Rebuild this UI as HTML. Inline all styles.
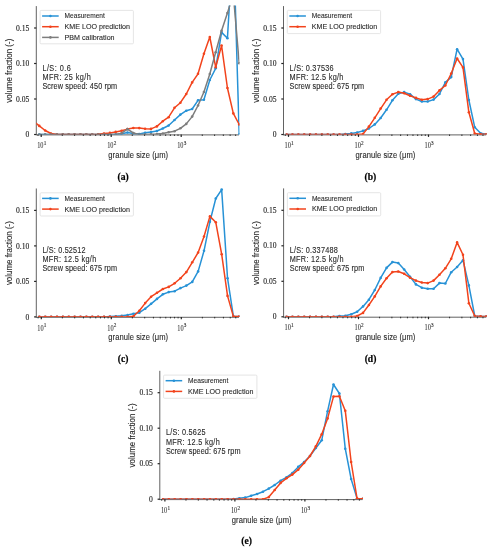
<!DOCTYPE html><html><head><meta charset="utf-8"><style>html,body{margin:0;padding:0;background:#fff;}svg{display:block;filter:blur(0.3px);}text{stroke:#2a2a2a;stroke-width:0.1px;}.tk{font-family:"Liberation Serif",serif;font-size:7.6px;fill:#222;stroke:#222;stroke-width:0.12px;}.sup{font-family:"Liberation Serif",serif;font-size:5.2px;fill:#2a2a2a;}.xtk{font-family:"Liberation Serif",serif;font-size:7.4px;fill:#2a2a2a;stroke:#2a2a2a;stroke-width:0.05px;}.lab{font-family:"Liberation Sans",sans-serif;font-size:7.6px;fill:#2a2a2a;}.ylab{font-family:"Liberation Sans",sans-serif;font-size:8.6px;fill:#2a2a2a;}.lg{font-family:"Liberation Sans",sans-serif;font-size:6.7px;fill:#2a2a2a;}.ann{font-family:"Liberation Sans",sans-serif;font-size:7.3px;fill:#2a2a2a;}.sl{font-family:"Liberation Serif",serif;font-size:9.6px;font-weight:bold;fill:#000;stroke:#000;stroke-width:0.2px;}</style></head><body>
<svg width="490" height="550" viewBox="0 0 490 550">
<rect width="490" height="550" fill="#fff"/>
<clipPath id="c0"><rect x="36.3" y="5.6" width="203.2" height="128.9"/></clipPath>
<line x1="36.3" y1="6.1" x2="36.3" y2="135" stroke="#626262" stroke-width="1"/>
<line x1="35.8" y1="134.9" x2="239" y2="134.9" stroke="#626262" stroke-width="1"/>
<g clip-path="url(#c0)">
<polyline fill="none" stroke="#2792d6" stroke-width="1.5" stroke-linejoin="round" points="39.28,134.5 45.16,134.5 51.04,134.5 56.92,134.5 62.8,134.5 68.68,134.5 74.56,134.5 80.44,134.5 86.32,134.5 92.2,134.5 98.08,134.5 103.96,134.5 109.84,134.5 115.72,134.5 121.6,133.7 127.48,132.5 133.36,133.6 139.24,134 145.12,132.8 151,132.1 156.88,131 162.76,128.5 168.64,125.5 174.52,120 180.4,114.6 186.28,110.7 192.16,109 198.04,100.3 203.92,99.7 209.8,80 215.68,68.3 221.56,32.4 227.44,38.3 233.32,-61.7 239.2,134.5"/>
<circle cx="39.28" cy="134.5" r="1.3" fill="#2792d6"/>
<circle cx="45.16" cy="134.5" r="1.3" fill="#2792d6"/>
<circle cx="51.04" cy="134.5" r="1.3" fill="#2792d6"/>
<circle cx="56.92" cy="134.5" r="1.3" fill="#2792d6"/>
<circle cx="62.8" cy="134.5" r="1.3" fill="#2792d6"/>
<circle cx="68.68" cy="134.5" r="1.3" fill="#2792d6"/>
<circle cx="74.56" cy="134.5" r="1.3" fill="#2792d6"/>
<circle cx="80.44" cy="134.5" r="1.3" fill="#2792d6"/>
<circle cx="86.32" cy="134.5" r="1.3" fill="#2792d6"/>
<circle cx="92.2" cy="134.5" r="1.3" fill="#2792d6"/>
<circle cx="98.08" cy="134.5" r="1.3" fill="#2792d6"/>
<circle cx="103.96" cy="134.5" r="1.3" fill="#2792d6"/>
<circle cx="109.84" cy="134.5" r="1.3" fill="#2792d6"/>
<circle cx="115.72" cy="134.5" r="1.3" fill="#2792d6"/>
<circle cx="121.6" cy="133.7" r="1.3" fill="#2792d6"/>
<circle cx="127.48" cy="132.5" r="1.3" fill="#2792d6"/>
<circle cx="133.36" cy="133.6" r="1.3" fill="#2792d6"/>
<circle cx="139.24" cy="134" r="1.3" fill="#2792d6"/>
<circle cx="145.12" cy="132.8" r="1.3" fill="#2792d6"/>
<circle cx="151" cy="132.1" r="1.3" fill="#2792d6"/>
<circle cx="156.88" cy="131" r="1.3" fill="#2792d6"/>
<circle cx="162.76" cy="128.5" r="1.3" fill="#2792d6"/>
<circle cx="168.64" cy="125.5" r="1.3" fill="#2792d6"/>
<circle cx="174.52" cy="120" r="1.3" fill="#2792d6"/>
<circle cx="180.4" cy="114.6" r="1.3" fill="#2792d6"/>
<circle cx="186.28" cy="110.7" r="1.3" fill="#2792d6"/>
<circle cx="192.16" cy="109" r="1.3" fill="#2792d6"/>
<circle cx="198.04" cy="100.3" r="1.3" fill="#2792d6"/>
<circle cx="203.92" cy="99.7" r="1.3" fill="#2792d6"/>
<circle cx="209.8" cy="80" r="1.3" fill="#2792d6"/>
<circle cx="215.68" cy="68.3" r="1.3" fill="#2792d6"/>
<circle cx="221.56" cy="32.4" r="1.3" fill="#2792d6"/>
<circle cx="227.44" cy="38.3" r="1.3" fill="#2792d6"/>
<circle cx="233.32" cy="-61.7" r="1.3" fill="#2792d6"/>
<circle cx="239.2" cy="134.5" r="1.3" fill="#2792d6"/>
<polyline fill="none" stroke="#f2431c" stroke-width="1.5" stroke-linejoin="round" points="33.4,121.2 39.28,125.9 45.16,130.5 51.04,133.5 56.92,134.5 62.8,134.5 68.68,134.5 74.56,134.5 80.44,134.5 86.32,134.5 92.2,134.5 98.08,134.2 103.96,133.6 109.84,132.9 115.72,131.9 121.6,130.8 127.48,129.1 133.36,128 139.24,128.1 145.12,128.8 151,128.9 156.88,126.4 162.76,121.2 168.64,117.2 174.52,107.8 180.4,102.7 186.28,94 192.16,82.4 198.04,73.8 203.92,53.8 209.8,37 215.68,67.2 221.56,45.6 227.44,88 233.32,113.4 239.2,124.5"/>
<circle cx="33.4" cy="121.2" r="1.3" fill="#f2431c"/>
<circle cx="39.28" cy="125.9" r="1.3" fill="#f2431c"/>
<circle cx="45.16" cy="130.5" r="1.3" fill="#f2431c"/>
<circle cx="51.04" cy="133.5" r="1.3" fill="#f2431c"/>
<circle cx="56.92" cy="134.5" r="1.3" fill="#f2431c"/>
<circle cx="62.8" cy="134.5" r="1.3" fill="#f2431c"/>
<circle cx="68.68" cy="134.5" r="1.3" fill="#f2431c"/>
<circle cx="74.56" cy="134.5" r="1.3" fill="#f2431c"/>
<circle cx="80.44" cy="134.5" r="1.3" fill="#f2431c"/>
<circle cx="86.32" cy="134.5" r="1.3" fill="#f2431c"/>
<circle cx="92.2" cy="134.5" r="1.3" fill="#f2431c"/>
<circle cx="98.08" cy="134.2" r="1.3" fill="#f2431c"/>
<circle cx="103.96" cy="133.6" r="1.3" fill="#f2431c"/>
<circle cx="109.84" cy="132.9" r="1.3" fill="#f2431c"/>
<circle cx="115.72" cy="131.9" r="1.3" fill="#f2431c"/>
<circle cx="121.6" cy="130.8" r="1.3" fill="#f2431c"/>
<circle cx="127.48" cy="129.1" r="1.3" fill="#f2431c"/>
<circle cx="133.36" cy="128" r="1.3" fill="#f2431c"/>
<circle cx="139.24" cy="128.1" r="1.3" fill="#f2431c"/>
<circle cx="145.12" cy="128.8" r="1.3" fill="#f2431c"/>
<circle cx="151" cy="128.9" r="1.3" fill="#f2431c"/>
<circle cx="156.88" cy="126.4" r="1.3" fill="#f2431c"/>
<circle cx="162.76" cy="121.2" r="1.3" fill="#f2431c"/>
<circle cx="168.64" cy="117.2" r="1.3" fill="#f2431c"/>
<circle cx="174.52" cy="107.8" r="1.3" fill="#f2431c"/>
<circle cx="180.4" cy="102.7" r="1.3" fill="#f2431c"/>
<circle cx="186.28" cy="94" r="1.3" fill="#f2431c"/>
<circle cx="192.16" cy="82.4" r="1.3" fill="#f2431c"/>
<circle cx="198.04" cy="73.8" r="1.3" fill="#f2431c"/>
<circle cx="203.92" cy="53.8" r="1.3" fill="#f2431c"/>
<circle cx="209.8" cy="37" r="1.3" fill="#f2431c"/>
<circle cx="215.68" cy="67.2" r="1.3" fill="#f2431c"/>
<circle cx="221.56" cy="45.6" r="1.3" fill="#f2431c"/>
<circle cx="227.44" cy="88" r="1.3" fill="#f2431c"/>
<circle cx="233.32" cy="113.4" r="1.3" fill="#f2431c"/>
<circle cx="239.2" cy="124.5" r="1.3" fill="#f2431c"/>
<polyline fill="none" stroke="#7d7d7d" stroke-width="1.5" stroke-linejoin="round" points="39.28,134.5 45.16,134.5 51.04,134.5 56.92,134.5 62.8,134.5 68.68,134.5 74.56,134.5 80.44,134.5 86.32,134.5 92.2,134.5 98.08,134.5 103.96,134.5 109.84,134.5 115.72,134.5 121.6,133.2 127.48,129.1 133.36,133 139.24,134.5 145.12,134.5 151,134.3 156.88,134 162.76,133.5 168.64,132.2 174.52,131.2 180.4,128.3 186.28,123.9 192.16,116.6 198.04,105.5 203.92,92 209.8,74 215.68,52.3 221.56,30.8 227.44,13 233.32,-5.7 239.2,63.2"/>
<circle cx="39.28" cy="134.5" r="1.3" fill="#7d7d7d"/>
<circle cx="45.16" cy="134.5" r="1.3" fill="#7d7d7d"/>
<circle cx="51.04" cy="134.5" r="1.3" fill="#7d7d7d"/>
<circle cx="56.92" cy="134.5" r="1.3" fill="#7d7d7d"/>
<circle cx="62.8" cy="134.5" r="1.3" fill="#7d7d7d"/>
<circle cx="68.68" cy="134.5" r="1.3" fill="#7d7d7d"/>
<circle cx="74.56" cy="134.5" r="1.3" fill="#7d7d7d"/>
<circle cx="80.44" cy="134.5" r="1.3" fill="#7d7d7d"/>
<circle cx="86.32" cy="134.5" r="1.3" fill="#7d7d7d"/>
<circle cx="92.2" cy="134.5" r="1.3" fill="#7d7d7d"/>
<circle cx="98.08" cy="134.5" r="1.3" fill="#7d7d7d"/>
<circle cx="103.96" cy="134.5" r="1.3" fill="#7d7d7d"/>
<circle cx="109.84" cy="134.5" r="1.3" fill="#7d7d7d"/>
<circle cx="115.72" cy="134.5" r="1.3" fill="#7d7d7d"/>
<circle cx="121.6" cy="133.2" r="1.3" fill="#7d7d7d"/>
<circle cx="127.48" cy="129.1" r="1.3" fill="#7d7d7d"/>
<circle cx="133.36" cy="133" r="1.3" fill="#7d7d7d"/>
<circle cx="139.24" cy="134.5" r="1.3" fill="#7d7d7d"/>
<circle cx="145.12" cy="134.5" r="1.3" fill="#7d7d7d"/>
<circle cx="151" cy="134.3" r="1.3" fill="#7d7d7d"/>
<circle cx="156.88" cy="134" r="1.3" fill="#7d7d7d"/>
<circle cx="162.76" cy="133.5" r="1.3" fill="#7d7d7d"/>
<circle cx="168.64" cy="132.2" r="1.3" fill="#7d7d7d"/>
<circle cx="174.52" cy="131.2" r="1.3" fill="#7d7d7d"/>
<circle cx="180.4" cy="128.3" r="1.3" fill="#7d7d7d"/>
<circle cx="186.28" cy="123.9" r="1.3" fill="#7d7d7d"/>
<circle cx="192.16" cy="116.6" r="1.3" fill="#7d7d7d"/>
<circle cx="198.04" cy="105.5" r="1.3" fill="#7d7d7d"/>
<circle cx="203.92" cy="92" r="1.3" fill="#7d7d7d"/>
<circle cx="209.8" cy="74" r="1.3" fill="#7d7d7d"/>
<circle cx="215.68" cy="52.3" r="1.3" fill="#7d7d7d"/>
<circle cx="221.56" cy="30.8" r="1.3" fill="#7d7d7d"/>
<circle cx="227.44" cy="13" r="1.3" fill="#7d7d7d"/>
<circle cx="233.32" cy="-5.7" r="1.3" fill="#7d7d7d"/>
<circle cx="239.2" cy="63.2" r="1.3" fill="#7d7d7d"/>
</g>
<line x1="34.1" y1="134.5" x2="36.3" y2="134.5" stroke="#222" stroke-width="1.2"/>
<text x="29.3" y="137.1" class="tk" text-anchor="end">0</text>
<line x1="34.1" y1="99" x2="36.3" y2="99" stroke="#222" stroke-width="1.2"/>
<text x="29.3" y="101.6" class="tk" text-anchor="end">0.05</text>
<line x1="34.1" y1="63.5" x2="36.3" y2="63.5" stroke="#222" stroke-width="1.2"/>
<text x="29.3" y="66.1" class="tk" text-anchor="end">0.10</text>
<line x1="34.1" y1="28" x2="36.3" y2="28" stroke="#222" stroke-width="1.2"/>
<text x="29.3" y="30.6" class="tk" text-anchor="end">0.15</text>
<line x1="41.2" y1="134.5" x2="41.2" y2="136.9" stroke="#222" stroke-width="1.2"/>
<text x="37.2" y="148.1" class="xtk" textLength="6.3" lengthAdjust="spacingAndGlyphs">10</text>
<text x="43.7" y="145" class="sup">1</text>
<line x1="62.27" y1="134.5" x2="62.27" y2="136" stroke="#222" stroke-width="0.9"/>
<line x1="74.6" y1="134.5" x2="74.6" y2="136" stroke="#222" stroke-width="0.9"/>
<line x1="83.34" y1="134.5" x2="83.34" y2="136" stroke="#222" stroke-width="0.9"/>
<line x1="90.13" y1="134.5" x2="90.13" y2="136" stroke="#222" stroke-width="0.9"/>
<line x1="95.67" y1="134.5" x2="95.67" y2="136" stroke="#222" stroke-width="0.9"/>
<line x1="100.36" y1="134.5" x2="100.36" y2="136" stroke="#222" stroke-width="0.9"/>
<line x1="104.42" y1="134.5" x2="104.42" y2="136" stroke="#222" stroke-width="0.9"/>
<line x1="108" y1="134.5" x2="108" y2="136" stroke="#222" stroke-width="0.9"/>
<line x1="111.2" y1="134.5" x2="111.2" y2="136.9" stroke="#222" stroke-width="1.2"/>
<text x="107.2" y="148.1" class="xtk" textLength="6.3" lengthAdjust="spacingAndGlyphs">10</text>
<text x="113.7" y="145" class="sup">2</text>
<line x1="132.27" y1="134.5" x2="132.27" y2="136" stroke="#222" stroke-width="0.9"/>
<line x1="144.6" y1="134.5" x2="144.6" y2="136" stroke="#222" stroke-width="0.9"/>
<line x1="153.34" y1="134.5" x2="153.34" y2="136" stroke="#222" stroke-width="0.9"/>
<line x1="160.13" y1="134.5" x2="160.13" y2="136" stroke="#222" stroke-width="0.9"/>
<line x1="165.67" y1="134.5" x2="165.67" y2="136" stroke="#222" stroke-width="0.9"/>
<line x1="170.36" y1="134.5" x2="170.36" y2="136" stroke="#222" stroke-width="0.9"/>
<line x1="174.42" y1="134.5" x2="174.42" y2="136" stroke="#222" stroke-width="0.9"/>
<line x1="178" y1="134.5" x2="178" y2="136" stroke="#222" stroke-width="0.9"/>
<line x1="181.2" y1="134.5" x2="181.2" y2="136.9" stroke="#222" stroke-width="1.2"/>
<text x="177.2" y="148.1" class="xtk" textLength="6.3" lengthAdjust="spacingAndGlyphs">10</text>
<text x="183.7" y="145" class="sup">3</text>
<line x1="202.27" y1="134.5" x2="202.27" y2="136" stroke="#222" stroke-width="0.9"/>
<line x1="214.6" y1="134.5" x2="214.6" y2="136" stroke="#222" stroke-width="0.9"/>
<line x1="223.34" y1="134.5" x2="223.34" y2="136" stroke="#222" stroke-width="0.9"/>
<line x1="230.13" y1="134.5" x2="230.13" y2="136" stroke="#222" stroke-width="0.9"/>
<line x1="235.67" y1="134.5" x2="235.67" y2="136" stroke="#222" stroke-width="0.9"/>
<line x1="38" y1="134.5" x2="38" y2="136" stroke="#222" stroke-width="0.9"/>
<g transform="translate(138.2,157.8) scale(1,1.12)"><text x="0" y="0" class="lab" text-anchor="middle" textLength="59.8" lengthAdjust="spacing">granule size (μm)</text></g>
<text transform="translate(11.5,70.7) rotate(-90)" x="0" y="0" class="ylab" text-anchor="middle" textLength="64" lengthAdjust="spacingAndGlyphs">volume fraction (-)</text>
<rect x="40.1" y="10.4" width="93.3" height="33.4" rx="1.0" fill="#fff" fill-opacity="0.85" stroke="#dedede" stroke-width="0.8"/>
<line x1="42.1" y1="16" x2="58.7" y2="16" stroke="#2792d6" stroke-width="1.5"/>
<circle cx="50.4" cy="16" r="1.3" fill="#2792d6"/>
<text x="64.6" y="18.4" class="lg" textLength="40.2" lengthAdjust="spacingAndGlyphs">Measurement</text>
<line x1="42.1" y1="26.7" x2="58.7" y2="26.7" stroke="#f2431c" stroke-width="1.5"/>
<circle cx="50.4" cy="26.7" r="1.3" fill="#f2431c"/>
<text x="64.6" y="29.1" class="lg" textLength="65.3" lengthAdjust="spacingAndGlyphs">KME LOO prediction</text>
<line x1="42.1" y1="37.4" x2="58.7" y2="37.4" stroke="#7d7d7d" stroke-width="1.5"/>
<circle cx="50.4" cy="37.4" r="1.3" fill="#7d7d7d"/>
<text x="64.6" y="39.8" class="lg" textLength="50" lengthAdjust="spacingAndGlyphs">PBM calibration</text>
<g transform="translate(42.4,70.7) scale(1,1.15)"><text x="0" y="0" class="ann" textLength="28.3" lengthAdjust="spacing">L/S: 0.6</text></g>
<g transform="translate(42.4,79.85) scale(1,1.15)"><text x="0" y="0" class="ann" textLength="48.3" lengthAdjust="spacing">MFR: 25 kg/h</text></g>
<g transform="translate(42.4,89) scale(1,1.15)"><text x="0" y="0" class="ann" textLength="74.8" lengthAdjust="spacing">Screw speed: 450 rpm</text></g>
<text x="123.2" y="179.5" class="sl" text-anchor="middle">(a)</text>
<clipPath id="c1"><rect x="283.5" y="5.6" width="203.2" height="128.9"/></clipPath>
<line x1="283.5" y1="6.1" x2="283.5" y2="135" stroke="#626262" stroke-width="1"/>
<line x1="283" y1="134.9" x2="486.2" y2="134.9" stroke="#626262" stroke-width="1"/>
<g clip-path="url(#c1)">
<polyline fill="none" stroke="#2792d6" stroke-width="1.5" stroke-linejoin="round" points="286.58,134.5 292.46,134.5 298.34,134.5 304.22,134.5 310.1,134.5 315.98,134.5 321.86,134.5 327.74,134.5 333.62,134.5 339.5,134.5 345.38,134 351.26,133.4 357.14,132.5 363.02,130.9 368.9,128.5 374.78,124.4 380.66,118 386.54,109.8 392.42,100.3 398.3,93.8 404.18,92.1 410.06,94.2 415.94,99.1 421.82,101.5 427.7,101.5 433.58,99.6 439.46,94 445.34,82.4 451.22,77.1 457.1,49.2 462.98,59.1 468.86,100 474.74,127.3 480.62,133.2 486.5,134.3"/>
<circle cx="286.58" cy="134.5" r="1.3" fill="#2792d6"/>
<circle cx="292.46" cy="134.5" r="1.3" fill="#2792d6"/>
<circle cx="298.34" cy="134.5" r="1.3" fill="#2792d6"/>
<circle cx="304.22" cy="134.5" r="1.3" fill="#2792d6"/>
<circle cx="310.1" cy="134.5" r="1.3" fill="#2792d6"/>
<circle cx="315.98" cy="134.5" r="1.3" fill="#2792d6"/>
<circle cx="321.86" cy="134.5" r="1.3" fill="#2792d6"/>
<circle cx="327.74" cy="134.5" r="1.3" fill="#2792d6"/>
<circle cx="333.62" cy="134.5" r="1.3" fill="#2792d6"/>
<circle cx="339.5" cy="134.5" r="1.3" fill="#2792d6"/>
<circle cx="345.38" cy="134" r="1.3" fill="#2792d6"/>
<circle cx="351.26" cy="133.4" r="1.3" fill="#2792d6"/>
<circle cx="357.14" cy="132.5" r="1.3" fill="#2792d6"/>
<circle cx="363.02" cy="130.9" r="1.3" fill="#2792d6"/>
<circle cx="368.9" cy="128.5" r="1.3" fill="#2792d6"/>
<circle cx="374.78" cy="124.4" r="1.3" fill="#2792d6"/>
<circle cx="380.66" cy="118" r="1.3" fill="#2792d6"/>
<circle cx="386.54" cy="109.8" r="1.3" fill="#2792d6"/>
<circle cx="392.42" cy="100.3" r="1.3" fill="#2792d6"/>
<circle cx="398.3" cy="93.8" r="1.3" fill="#2792d6"/>
<circle cx="404.18" cy="92.1" r="1.3" fill="#2792d6"/>
<circle cx="410.06" cy="94.2" r="1.3" fill="#2792d6"/>
<circle cx="415.94" cy="99.1" r="1.3" fill="#2792d6"/>
<circle cx="421.82" cy="101.5" r="1.3" fill="#2792d6"/>
<circle cx="427.7" cy="101.5" r="1.3" fill="#2792d6"/>
<circle cx="433.58" cy="99.6" r="1.3" fill="#2792d6"/>
<circle cx="439.46" cy="94" r="1.3" fill="#2792d6"/>
<circle cx="445.34" cy="82.4" r="1.3" fill="#2792d6"/>
<circle cx="451.22" cy="77.1" r="1.3" fill="#2792d6"/>
<circle cx="457.1" cy="49.2" r="1.3" fill="#2792d6"/>
<circle cx="462.98" cy="59.1" r="1.3" fill="#2792d6"/>
<circle cx="468.86" cy="100" r="1.3" fill="#2792d6"/>
<circle cx="474.74" cy="127.3" r="1.3" fill="#2792d6"/>
<circle cx="480.62" cy="133.2" r="1.3" fill="#2792d6"/>
<circle cx="486.5" cy="134.3" r="1.3" fill="#2792d6"/>
<polyline fill="none" stroke="#f2431c" stroke-width="1.5" stroke-linejoin="round" points="286.58,134.5 292.46,134.5 298.34,134.5 304.22,134.5 310.1,134.5 315.98,134.5 321.86,134.5 327.74,134.5 333.62,134.5 339.5,134.5 345.38,134.5 351.26,134.5 357.14,134.5 363.02,134 368.9,126.6 374.78,117.8 380.66,108.6 386.54,99.8 392.42,94.2 398.3,92.1 404.18,93.3 410.06,95.8 415.94,97.9 421.82,99.7 427.7,99.1 433.58,96.6 439.46,90.4 445.34,85.5 451.22,73.5 457.1,58.5 462.98,67.4 468.86,112.3 474.74,133.5 480.62,134.3 486.5,134.3"/>
<circle cx="286.58" cy="134.5" r="1.3" fill="#f2431c"/>
<circle cx="292.46" cy="134.5" r="1.3" fill="#f2431c"/>
<circle cx="298.34" cy="134.5" r="1.3" fill="#f2431c"/>
<circle cx="304.22" cy="134.5" r="1.3" fill="#f2431c"/>
<circle cx="310.1" cy="134.5" r="1.3" fill="#f2431c"/>
<circle cx="315.98" cy="134.5" r="1.3" fill="#f2431c"/>
<circle cx="321.86" cy="134.5" r="1.3" fill="#f2431c"/>
<circle cx="327.74" cy="134.5" r="1.3" fill="#f2431c"/>
<circle cx="333.62" cy="134.5" r="1.3" fill="#f2431c"/>
<circle cx="339.5" cy="134.5" r="1.3" fill="#f2431c"/>
<circle cx="345.38" cy="134.5" r="1.3" fill="#f2431c"/>
<circle cx="351.26" cy="134.5" r="1.3" fill="#f2431c"/>
<circle cx="357.14" cy="134.5" r="1.3" fill="#f2431c"/>
<circle cx="363.02" cy="134" r="1.3" fill="#f2431c"/>
<circle cx="368.9" cy="126.6" r="1.3" fill="#f2431c"/>
<circle cx="374.78" cy="117.8" r="1.3" fill="#f2431c"/>
<circle cx="380.66" cy="108.6" r="1.3" fill="#f2431c"/>
<circle cx="386.54" cy="99.8" r="1.3" fill="#f2431c"/>
<circle cx="392.42" cy="94.2" r="1.3" fill="#f2431c"/>
<circle cx="398.3" cy="92.1" r="1.3" fill="#f2431c"/>
<circle cx="404.18" cy="93.3" r="1.3" fill="#f2431c"/>
<circle cx="410.06" cy="95.8" r="1.3" fill="#f2431c"/>
<circle cx="415.94" cy="97.9" r="1.3" fill="#f2431c"/>
<circle cx="421.82" cy="99.7" r="1.3" fill="#f2431c"/>
<circle cx="427.7" cy="99.1" r="1.3" fill="#f2431c"/>
<circle cx="433.58" cy="96.6" r="1.3" fill="#f2431c"/>
<circle cx="439.46" cy="90.4" r="1.3" fill="#f2431c"/>
<circle cx="445.34" cy="85.5" r="1.3" fill="#f2431c"/>
<circle cx="451.22" cy="73.5" r="1.3" fill="#f2431c"/>
<circle cx="457.1" cy="58.5" r="1.3" fill="#f2431c"/>
<circle cx="462.98" cy="67.4" r="1.3" fill="#f2431c"/>
<circle cx="468.86" cy="112.3" r="1.3" fill="#f2431c"/>
<circle cx="474.74" cy="133.5" r="1.3" fill="#f2431c"/>
<circle cx="480.62" cy="134.3" r="1.3" fill="#f2431c"/>
<circle cx="486.5" cy="134.3" r="1.3" fill="#f2431c"/>
</g>
<line x1="281.3" y1="134.5" x2="283.5" y2="134.5" stroke="#222" stroke-width="1.2"/>
<text x="276.5" y="137.1" class="tk" text-anchor="end">0</text>
<line x1="281.3" y1="99" x2="283.5" y2="99" stroke="#222" stroke-width="1.2"/>
<text x="276.5" y="101.6" class="tk" text-anchor="end">0.05</text>
<line x1="281.3" y1="63.5" x2="283.5" y2="63.5" stroke="#222" stroke-width="1.2"/>
<text x="276.5" y="66.1" class="tk" text-anchor="end">0.10</text>
<line x1="281.3" y1="28" x2="283.5" y2="28" stroke="#222" stroke-width="1.2"/>
<text x="276.5" y="30.6" class="tk" text-anchor="end">0.15</text>
<line x1="288.5" y1="134.5" x2="288.5" y2="136.9" stroke="#222" stroke-width="1.2"/>
<text x="284.5" y="148.1" class="xtk" textLength="6.3" lengthAdjust="spacingAndGlyphs">10</text>
<text x="291" y="145" class="sup">1</text>
<line x1="309.57" y1="134.5" x2="309.57" y2="136" stroke="#222" stroke-width="0.9"/>
<line x1="321.9" y1="134.5" x2="321.9" y2="136" stroke="#222" stroke-width="0.9"/>
<line x1="330.64" y1="134.5" x2="330.64" y2="136" stroke="#222" stroke-width="0.9"/>
<line x1="337.43" y1="134.5" x2="337.43" y2="136" stroke="#222" stroke-width="0.9"/>
<line x1="342.97" y1="134.5" x2="342.97" y2="136" stroke="#222" stroke-width="0.9"/>
<line x1="347.66" y1="134.5" x2="347.66" y2="136" stroke="#222" stroke-width="0.9"/>
<line x1="351.72" y1="134.5" x2="351.72" y2="136" stroke="#222" stroke-width="0.9"/>
<line x1="355.3" y1="134.5" x2="355.3" y2="136" stroke="#222" stroke-width="0.9"/>
<line x1="358.5" y1="134.5" x2="358.5" y2="136.9" stroke="#222" stroke-width="1.2"/>
<text x="354.5" y="148.1" class="xtk" textLength="6.3" lengthAdjust="spacingAndGlyphs">10</text>
<text x="361" y="145" class="sup">2</text>
<line x1="379.57" y1="134.5" x2="379.57" y2="136" stroke="#222" stroke-width="0.9"/>
<line x1="391.9" y1="134.5" x2="391.9" y2="136" stroke="#222" stroke-width="0.9"/>
<line x1="400.64" y1="134.5" x2="400.64" y2="136" stroke="#222" stroke-width="0.9"/>
<line x1="407.43" y1="134.5" x2="407.43" y2="136" stroke="#222" stroke-width="0.9"/>
<line x1="412.97" y1="134.5" x2="412.97" y2="136" stroke="#222" stroke-width="0.9"/>
<line x1="417.66" y1="134.5" x2="417.66" y2="136" stroke="#222" stroke-width="0.9"/>
<line x1="421.72" y1="134.5" x2="421.72" y2="136" stroke="#222" stroke-width="0.9"/>
<line x1="425.3" y1="134.5" x2="425.3" y2="136" stroke="#222" stroke-width="0.9"/>
<line x1="428.5" y1="134.5" x2="428.5" y2="136.9" stroke="#222" stroke-width="1.2"/>
<text x="424.5" y="148.1" class="xtk" textLength="6.3" lengthAdjust="spacingAndGlyphs">10</text>
<text x="431" y="145" class="sup">3</text>
<line x1="449.57" y1="134.5" x2="449.57" y2="136" stroke="#222" stroke-width="0.9"/>
<line x1="461.9" y1="134.5" x2="461.9" y2="136" stroke="#222" stroke-width="0.9"/>
<line x1="470.64" y1="134.5" x2="470.64" y2="136" stroke="#222" stroke-width="0.9"/>
<line x1="477.43" y1="134.5" x2="477.43" y2="136" stroke="#222" stroke-width="0.9"/>
<line x1="482.97" y1="134.5" x2="482.97" y2="136" stroke="#222" stroke-width="0.9"/>
<line x1="285.3" y1="134.5" x2="285.3" y2="136" stroke="#222" stroke-width="0.9"/>
<g transform="translate(385.4,157.8) scale(1,1.12)"><text x="0" y="0" class="lab" text-anchor="middle" textLength="59.8" lengthAdjust="spacing">granule size (μm)</text></g>
<text transform="translate(258.7,70.7) rotate(-90)" x="0" y="0" class="ylab" text-anchor="middle" textLength="64" lengthAdjust="spacingAndGlyphs">volume fraction (-)</text>
<rect x="287.3" y="10.4" width="93.3" height="23.2" rx="1.0" fill="#fff" fill-opacity="0.85" stroke="#dedede" stroke-width="0.8"/>
<line x1="289.3" y1="16" x2="305.9" y2="16" stroke="#2792d6" stroke-width="1.5"/>
<circle cx="297.6" cy="16" r="1.3" fill="#2792d6"/>
<text x="311.8" y="18.4" class="lg" textLength="40.2" lengthAdjust="spacingAndGlyphs">Measurement</text>
<line x1="289.3" y1="26.7" x2="305.9" y2="26.7" stroke="#f2431c" stroke-width="1.5"/>
<circle cx="297.6" cy="26.7" r="1.3" fill="#f2431c"/>
<text x="311.8" y="29.1" class="lg" textLength="65.3" lengthAdjust="spacingAndGlyphs">KME LOO prediction</text>
<g transform="translate(289.6,70.7) scale(1,1.15)"><text x="0" y="0" class="ann" textLength="44" lengthAdjust="spacing">L/S: 0.37536</text></g>
<g transform="translate(289.6,79.85) scale(1,1.15)"><text x="0" y="0" class="ann" textLength="53.8" lengthAdjust="spacing">MFR: 12.5 kg/h</text></g>
<g transform="translate(289.6,89) scale(1,1.15)"><text x="0" y="0" class="ann" textLength="74.6" lengthAdjust="spacing">Screw speed: 675 rpm</text></g>
<text x="370.4" y="179.5" class="sl" text-anchor="middle">(b)</text>
<clipPath id="c2"><rect x="36.3" y="188" width="203.2" height="128.9"/></clipPath>
<line x1="36.3" y1="188.5" x2="36.3" y2="317.4" stroke="#626262" stroke-width="1"/>
<line x1="35.8" y1="317.3" x2="239" y2="317.3" stroke="#626262" stroke-width="1"/>
<g clip-path="url(#c2)">
<polyline fill="none" stroke="#2792d6" stroke-width="1.5" stroke-linejoin="round" points="39.38,316.9 45.26,316.9 51.14,316.9 57.02,316.9 62.9,316.9 68.78,316.9 74.66,316.9 80.54,316.9 86.42,316.9 92.3,316.9 98.18,316.9 104.06,316.9 109.94,316.6 115.82,316.2 121.7,315.8 127.58,315 133.46,313.7 139.34,312.7 145.22,308.7 151.1,303.8 156.98,298.9 162.86,294.3 168.74,292.1 174.62,291.2 180.5,288.1 186.38,285.6 192.26,281.9 198.14,271.4 204.02,250.8 209.9,221.8 215.78,198.5 221.66,189.6 227.54,278.2 233.42,316.6 239.3,316.6"/>
<circle cx="39.38" cy="316.9" r="1.3" fill="#2792d6"/>
<circle cx="45.26" cy="316.9" r="1.3" fill="#2792d6"/>
<circle cx="51.14" cy="316.9" r="1.3" fill="#2792d6"/>
<circle cx="57.02" cy="316.9" r="1.3" fill="#2792d6"/>
<circle cx="62.9" cy="316.9" r="1.3" fill="#2792d6"/>
<circle cx="68.78" cy="316.9" r="1.3" fill="#2792d6"/>
<circle cx="74.66" cy="316.9" r="1.3" fill="#2792d6"/>
<circle cx="80.54" cy="316.9" r="1.3" fill="#2792d6"/>
<circle cx="86.42" cy="316.9" r="1.3" fill="#2792d6"/>
<circle cx="92.3" cy="316.9" r="1.3" fill="#2792d6"/>
<circle cx="98.18" cy="316.9" r="1.3" fill="#2792d6"/>
<circle cx="104.06" cy="316.9" r="1.3" fill="#2792d6"/>
<circle cx="109.94" cy="316.6" r="1.3" fill="#2792d6"/>
<circle cx="115.82" cy="316.2" r="1.3" fill="#2792d6"/>
<circle cx="121.7" cy="315.8" r="1.3" fill="#2792d6"/>
<circle cx="127.58" cy="315" r="1.3" fill="#2792d6"/>
<circle cx="133.46" cy="313.7" r="1.3" fill="#2792d6"/>
<circle cx="139.34" cy="312.7" r="1.3" fill="#2792d6"/>
<circle cx="145.22" cy="308.7" r="1.3" fill="#2792d6"/>
<circle cx="151.1" cy="303.8" r="1.3" fill="#2792d6"/>
<circle cx="156.98" cy="298.9" r="1.3" fill="#2792d6"/>
<circle cx="162.86" cy="294.3" r="1.3" fill="#2792d6"/>
<circle cx="168.74" cy="292.1" r="1.3" fill="#2792d6"/>
<circle cx="174.62" cy="291.2" r="1.3" fill="#2792d6"/>
<circle cx="180.5" cy="288.1" r="1.3" fill="#2792d6"/>
<circle cx="186.38" cy="285.6" r="1.3" fill="#2792d6"/>
<circle cx="192.26" cy="281.9" r="1.3" fill="#2792d6"/>
<circle cx="198.14" cy="271.4" r="1.3" fill="#2792d6"/>
<circle cx="204.02" cy="250.8" r="1.3" fill="#2792d6"/>
<circle cx="209.9" cy="221.8" r="1.3" fill="#2792d6"/>
<circle cx="215.78" cy="198.5" r="1.3" fill="#2792d6"/>
<circle cx="221.66" cy="189.6" r="1.3" fill="#2792d6"/>
<circle cx="227.54" cy="278.2" r="1.3" fill="#2792d6"/>
<circle cx="233.42" cy="316.6" r="1.3" fill="#2792d6"/>
<circle cx="239.3" cy="316.6" r="1.3" fill="#2792d6"/>
<polyline fill="none" stroke="#f2431c" stroke-width="1.5" stroke-linejoin="round" points="39.38,316.9 45.26,316.9 51.14,316.9 57.02,316.9 62.9,316.9 68.78,316.9 74.66,316.9 80.54,316.9 86.42,316.9 92.3,316.9 98.18,316.9 104.06,316.9 109.94,316.9 115.82,316.9 121.7,316.9 127.58,316.9 133.46,316.3 139.34,310.8 145.22,303.1 151.1,296.7 156.98,292.8 162.86,289 168.74,286.9 174.62,283.3 180.5,278.3 186.38,272.1 192.26,262.3 198.14,252.5 204.02,236.5 209.9,216.4 215.78,222.3 221.66,254.2 227.54,295.9 233.42,316.6 239.3,316.6"/>
<circle cx="39.38" cy="316.9" r="1.3" fill="#f2431c"/>
<circle cx="45.26" cy="316.9" r="1.3" fill="#f2431c"/>
<circle cx="51.14" cy="316.9" r="1.3" fill="#f2431c"/>
<circle cx="57.02" cy="316.9" r="1.3" fill="#f2431c"/>
<circle cx="62.9" cy="316.9" r="1.3" fill="#f2431c"/>
<circle cx="68.78" cy="316.9" r="1.3" fill="#f2431c"/>
<circle cx="74.66" cy="316.9" r="1.3" fill="#f2431c"/>
<circle cx="80.54" cy="316.9" r="1.3" fill="#f2431c"/>
<circle cx="86.42" cy="316.9" r="1.3" fill="#f2431c"/>
<circle cx="92.3" cy="316.9" r="1.3" fill="#f2431c"/>
<circle cx="98.18" cy="316.9" r="1.3" fill="#f2431c"/>
<circle cx="104.06" cy="316.9" r="1.3" fill="#f2431c"/>
<circle cx="109.94" cy="316.9" r="1.3" fill="#f2431c"/>
<circle cx="115.82" cy="316.9" r="1.3" fill="#f2431c"/>
<circle cx="121.7" cy="316.9" r="1.3" fill="#f2431c"/>
<circle cx="127.58" cy="316.9" r="1.3" fill="#f2431c"/>
<circle cx="133.46" cy="316.3" r="1.3" fill="#f2431c"/>
<circle cx="139.34" cy="310.8" r="1.3" fill="#f2431c"/>
<circle cx="145.22" cy="303.1" r="1.3" fill="#f2431c"/>
<circle cx="151.1" cy="296.7" r="1.3" fill="#f2431c"/>
<circle cx="156.98" cy="292.8" r="1.3" fill="#f2431c"/>
<circle cx="162.86" cy="289" r="1.3" fill="#f2431c"/>
<circle cx="168.74" cy="286.9" r="1.3" fill="#f2431c"/>
<circle cx="174.62" cy="283.3" r="1.3" fill="#f2431c"/>
<circle cx="180.5" cy="278.3" r="1.3" fill="#f2431c"/>
<circle cx="186.38" cy="272.1" r="1.3" fill="#f2431c"/>
<circle cx="192.26" cy="262.3" r="1.3" fill="#f2431c"/>
<circle cx="198.14" cy="252.5" r="1.3" fill="#f2431c"/>
<circle cx="204.02" cy="236.5" r="1.3" fill="#f2431c"/>
<circle cx="209.9" cy="216.4" r="1.3" fill="#f2431c"/>
<circle cx="215.78" cy="222.3" r="1.3" fill="#f2431c"/>
<circle cx="221.66" cy="254.2" r="1.3" fill="#f2431c"/>
<circle cx="227.54" cy="295.9" r="1.3" fill="#f2431c"/>
<circle cx="233.42" cy="316.6" r="1.3" fill="#f2431c"/>
<circle cx="239.3" cy="316.6" r="1.3" fill="#f2431c"/>
</g>
<line x1="34.1" y1="316.9" x2="36.3" y2="316.9" stroke="#222" stroke-width="1.2"/>
<text x="29.3" y="319.5" class="tk" text-anchor="end">0</text>
<line x1="34.1" y1="281.4" x2="36.3" y2="281.4" stroke="#222" stroke-width="1.2"/>
<text x="29.3" y="284" class="tk" text-anchor="end">0.05</text>
<line x1="34.1" y1="245.9" x2="36.3" y2="245.9" stroke="#222" stroke-width="1.2"/>
<text x="29.3" y="248.5" class="tk" text-anchor="end">0.10</text>
<line x1="34.1" y1="210.4" x2="36.3" y2="210.4" stroke="#222" stroke-width="1.2"/>
<text x="29.3" y="213" class="tk" text-anchor="end">0.15</text>
<line x1="41.3" y1="316.9" x2="41.3" y2="319.3" stroke="#222" stroke-width="1.2"/>
<text x="37.3" y="330.5" class="xtk" textLength="6.3" lengthAdjust="spacingAndGlyphs">10</text>
<text x="43.8" y="327.4" class="sup">1</text>
<line x1="62.37" y1="316.9" x2="62.37" y2="318.4" stroke="#222" stroke-width="0.9"/>
<line x1="74.7" y1="316.9" x2="74.7" y2="318.4" stroke="#222" stroke-width="0.9"/>
<line x1="83.44" y1="316.9" x2="83.44" y2="318.4" stroke="#222" stroke-width="0.9"/>
<line x1="90.23" y1="316.9" x2="90.23" y2="318.4" stroke="#222" stroke-width="0.9"/>
<line x1="95.77" y1="316.9" x2="95.77" y2="318.4" stroke="#222" stroke-width="0.9"/>
<line x1="100.46" y1="316.9" x2="100.46" y2="318.4" stroke="#222" stroke-width="0.9"/>
<line x1="104.52" y1="316.9" x2="104.52" y2="318.4" stroke="#222" stroke-width="0.9"/>
<line x1="108.1" y1="316.9" x2="108.1" y2="318.4" stroke="#222" stroke-width="0.9"/>
<line x1="111.3" y1="316.9" x2="111.3" y2="319.3" stroke="#222" stroke-width="1.2"/>
<text x="107.3" y="330.5" class="xtk" textLength="6.3" lengthAdjust="spacingAndGlyphs">10</text>
<text x="113.8" y="327.4" class="sup">2</text>
<line x1="132.37" y1="316.9" x2="132.37" y2="318.4" stroke="#222" stroke-width="0.9"/>
<line x1="144.7" y1="316.9" x2="144.7" y2="318.4" stroke="#222" stroke-width="0.9"/>
<line x1="153.44" y1="316.9" x2="153.44" y2="318.4" stroke="#222" stroke-width="0.9"/>
<line x1="160.23" y1="316.9" x2="160.23" y2="318.4" stroke="#222" stroke-width="0.9"/>
<line x1="165.77" y1="316.9" x2="165.77" y2="318.4" stroke="#222" stroke-width="0.9"/>
<line x1="170.46" y1="316.9" x2="170.46" y2="318.4" stroke="#222" stroke-width="0.9"/>
<line x1="174.52" y1="316.9" x2="174.52" y2="318.4" stroke="#222" stroke-width="0.9"/>
<line x1="178.1" y1="316.9" x2="178.1" y2="318.4" stroke="#222" stroke-width="0.9"/>
<line x1="181.3" y1="316.9" x2="181.3" y2="319.3" stroke="#222" stroke-width="1.2"/>
<text x="177.3" y="330.5" class="xtk" textLength="6.3" lengthAdjust="spacingAndGlyphs">10</text>
<text x="183.8" y="327.4" class="sup">3</text>
<line x1="202.37" y1="316.9" x2="202.37" y2="318.4" stroke="#222" stroke-width="0.9"/>
<line x1="214.7" y1="316.9" x2="214.7" y2="318.4" stroke="#222" stroke-width="0.9"/>
<line x1="223.44" y1="316.9" x2="223.44" y2="318.4" stroke="#222" stroke-width="0.9"/>
<line x1="230.23" y1="316.9" x2="230.23" y2="318.4" stroke="#222" stroke-width="0.9"/>
<line x1="235.77" y1="316.9" x2="235.77" y2="318.4" stroke="#222" stroke-width="0.9"/>
<line x1="38.1" y1="316.9" x2="38.1" y2="318.4" stroke="#222" stroke-width="0.9"/>
<g transform="translate(138.2,340.2) scale(1,1.12)"><text x="0" y="0" class="lab" text-anchor="middle" textLength="59.8" lengthAdjust="spacing">granule size (μm)</text></g>
<text transform="translate(11.5,253.1) rotate(-90)" x="0" y="0" class="ylab" text-anchor="middle" textLength="64" lengthAdjust="spacingAndGlyphs">volume fraction (-)</text>
<rect x="40.1" y="192.8" width="93.3" height="23.2" rx="1.0" fill="#fff" fill-opacity="0.85" stroke="#dedede" stroke-width="0.8"/>
<line x1="42.1" y1="198.4" x2="58.7" y2="198.4" stroke="#2792d6" stroke-width="1.5"/>
<circle cx="50.4" cy="198.4" r="1.3" fill="#2792d6"/>
<text x="64.6" y="200.8" class="lg" textLength="40.2" lengthAdjust="spacingAndGlyphs">Measurement</text>
<line x1="42.1" y1="209.1" x2="58.7" y2="209.1" stroke="#f2431c" stroke-width="1.5"/>
<circle cx="50.4" cy="209.1" r="1.3" fill="#f2431c"/>
<text x="64.6" y="211.5" class="lg" textLength="65.3" lengthAdjust="spacingAndGlyphs">KME LOO prediction</text>
<g transform="translate(42.4,253.1) scale(1,1.15)"><text x="0" y="0" class="ann" textLength="43.2" lengthAdjust="spacing">L/S: 0.52512</text></g>
<g transform="translate(42.4,262.25) scale(1,1.15)"><text x="0" y="0" class="ann" textLength="53.8" lengthAdjust="spacing">MFR: 12.5 kg/h</text></g>
<g transform="translate(42.4,271.4) scale(1,1.15)"><text x="0" y="0" class="ann" textLength="74.6" lengthAdjust="spacing">Screw speed: 675 rpm</text></g>
<text x="123.2" y="361.9" class="sl" text-anchor="middle">(c)</text>
<clipPath id="c3"><rect x="283.6" y="187.9" width="203.2" height="128.9"/></clipPath>
<line x1="283.6" y1="188.4" x2="283.6" y2="317.3" stroke="#626262" stroke-width="1"/>
<line x1="283.1" y1="317.2" x2="486.3" y2="317.2" stroke="#626262" stroke-width="1"/>
<g clip-path="url(#c3)">
<polyline fill="none" stroke="#2792d6" stroke-width="1.5" stroke-linejoin="round" points="286.58,316.8 292.46,316.8 298.34,316.8 304.22,316.8 310.1,316.8 315.98,316.8 321.86,316.8 327.74,316.8 333.62,316.8 339.5,316 345.38,315.7 351.26,314.3 357.14,311.7 363.02,306.4 368.9,299.7 374.78,290 380.66,277.9 386.54,267.9 392.42,262.1 398.3,263.1 404.18,269.5 410.06,276.7 415.94,284.4 421.82,287.7 427.7,288.7 433.58,288.7 439.46,283.1 445.34,283.5 451.22,272.2 457.1,267 462.98,260.2 468.86,285.4 474.74,316 480.62,316.4 486.5,316.4"/>
<circle cx="286.58" cy="316.8" r="1.3" fill="#2792d6"/>
<circle cx="292.46" cy="316.8" r="1.3" fill="#2792d6"/>
<circle cx="298.34" cy="316.8" r="1.3" fill="#2792d6"/>
<circle cx="304.22" cy="316.8" r="1.3" fill="#2792d6"/>
<circle cx="310.1" cy="316.8" r="1.3" fill="#2792d6"/>
<circle cx="315.98" cy="316.8" r="1.3" fill="#2792d6"/>
<circle cx="321.86" cy="316.8" r="1.3" fill="#2792d6"/>
<circle cx="327.74" cy="316.8" r="1.3" fill="#2792d6"/>
<circle cx="333.62" cy="316.8" r="1.3" fill="#2792d6"/>
<circle cx="339.5" cy="316" r="1.3" fill="#2792d6"/>
<circle cx="345.38" cy="315.7" r="1.3" fill="#2792d6"/>
<circle cx="351.26" cy="314.3" r="1.3" fill="#2792d6"/>
<circle cx="357.14" cy="311.7" r="1.3" fill="#2792d6"/>
<circle cx="363.02" cy="306.4" r="1.3" fill="#2792d6"/>
<circle cx="368.9" cy="299.7" r="1.3" fill="#2792d6"/>
<circle cx="374.78" cy="290" r="1.3" fill="#2792d6"/>
<circle cx="380.66" cy="277.9" r="1.3" fill="#2792d6"/>
<circle cx="386.54" cy="267.9" r="1.3" fill="#2792d6"/>
<circle cx="392.42" cy="262.1" r="1.3" fill="#2792d6"/>
<circle cx="398.3" cy="263.1" r="1.3" fill="#2792d6"/>
<circle cx="404.18" cy="269.5" r="1.3" fill="#2792d6"/>
<circle cx="410.06" cy="276.7" r="1.3" fill="#2792d6"/>
<circle cx="415.94" cy="284.4" r="1.3" fill="#2792d6"/>
<circle cx="421.82" cy="287.7" r="1.3" fill="#2792d6"/>
<circle cx="427.7" cy="288.7" r="1.3" fill="#2792d6"/>
<circle cx="433.58" cy="288.7" r="1.3" fill="#2792d6"/>
<circle cx="439.46" cy="283.1" r="1.3" fill="#2792d6"/>
<circle cx="445.34" cy="283.5" r="1.3" fill="#2792d6"/>
<circle cx="451.22" cy="272.2" r="1.3" fill="#2792d6"/>
<circle cx="457.1" cy="267" r="1.3" fill="#2792d6"/>
<circle cx="462.98" cy="260.2" r="1.3" fill="#2792d6"/>
<circle cx="468.86" cy="285.4" r="1.3" fill="#2792d6"/>
<circle cx="474.74" cy="316" r="1.3" fill="#2792d6"/>
<circle cx="480.62" cy="316.4" r="1.3" fill="#2792d6"/>
<circle cx="486.5" cy="316.4" r="1.3" fill="#2792d6"/>
<polyline fill="none" stroke="#f2431c" stroke-width="1.5" stroke-linejoin="round" points="286.58,316.8 292.46,316.8 298.34,316.8 304.22,316.8 310.1,316.8 315.98,316.8 321.86,316.8 327.74,316.8 333.62,316.8 339.5,316.8 345.38,316.8 351.26,316.8 357.14,316 363.02,312.9 368.9,305 374.78,296.4 380.66,286.4 386.54,278.3 392.42,272.1 398.3,271.5 404.18,273.8 410.06,277.7 415.94,280.6 421.82,282.5 427.7,283.1 433.58,280.6 439.46,274.7 445.34,268.3 451.22,258.8 457.1,242.4 462.98,254.8 468.86,303.2 474.74,316 480.62,316.4 486.5,316.4"/>
<circle cx="286.58" cy="316.8" r="1.3" fill="#f2431c"/>
<circle cx="292.46" cy="316.8" r="1.3" fill="#f2431c"/>
<circle cx="298.34" cy="316.8" r="1.3" fill="#f2431c"/>
<circle cx="304.22" cy="316.8" r="1.3" fill="#f2431c"/>
<circle cx="310.1" cy="316.8" r="1.3" fill="#f2431c"/>
<circle cx="315.98" cy="316.8" r="1.3" fill="#f2431c"/>
<circle cx="321.86" cy="316.8" r="1.3" fill="#f2431c"/>
<circle cx="327.74" cy="316.8" r="1.3" fill="#f2431c"/>
<circle cx="333.62" cy="316.8" r="1.3" fill="#f2431c"/>
<circle cx="339.5" cy="316.8" r="1.3" fill="#f2431c"/>
<circle cx="345.38" cy="316.8" r="1.3" fill="#f2431c"/>
<circle cx="351.26" cy="316.8" r="1.3" fill="#f2431c"/>
<circle cx="357.14" cy="316" r="1.3" fill="#f2431c"/>
<circle cx="363.02" cy="312.9" r="1.3" fill="#f2431c"/>
<circle cx="368.9" cy="305" r="1.3" fill="#f2431c"/>
<circle cx="374.78" cy="296.4" r="1.3" fill="#f2431c"/>
<circle cx="380.66" cy="286.4" r="1.3" fill="#f2431c"/>
<circle cx="386.54" cy="278.3" r="1.3" fill="#f2431c"/>
<circle cx="392.42" cy="272.1" r="1.3" fill="#f2431c"/>
<circle cx="398.3" cy="271.5" r="1.3" fill="#f2431c"/>
<circle cx="404.18" cy="273.8" r="1.3" fill="#f2431c"/>
<circle cx="410.06" cy="277.7" r="1.3" fill="#f2431c"/>
<circle cx="415.94" cy="280.6" r="1.3" fill="#f2431c"/>
<circle cx="421.82" cy="282.5" r="1.3" fill="#f2431c"/>
<circle cx="427.7" cy="283.1" r="1.3" fill="#f2431c"/>
<circle cx="433.58" cy="280.6" r="1.3" fill="#f2431c"/>
<circle cx="439.46" cy="274.7" r="1.3" fill="#f2431c"/>
<circle cx="445.34" cy="268.3" r="1.3" fill="#f2431c"/>
<circle cx="451.22" cy="258.8" r="1.3" fill="#f2431c"/>
<circle cx="457.1" cy="242.4" r="1.3" fill="#f2431c"/>
<circle cx="462.98" cy="254.8" r="1.3" fill="#f2431c"/>
<circle cx="468.86" cy="303.2" r="1.3" fill="#f2431c"/>
<circle cx="474.74" cy="316" r="1.3" fill="#f2431c"/>
<circle cx="480.62" cy="316.4" r="1.3" fill="#f2431c"/>
<circle cx="486.5" cy="316.4" r="1.3" fill="#f2431c"/>
</g>
<line x1="281.4" y1="316.8" x2="283.6" y2="316.8" stroke="#222" stroke-width="1.2"/>
<text x="276.6" y="319.4" class="tk" text-anchor="end">0</text>
<line x1="281.4" y1="281.3" x2="283.6" y2="281.3" stroke="#222" stroke-width="1.2"/>
<text x="276.6" y="283.9" class="tk" text-anchor="end">0.05</text>
<line x1="281.4" y1="245.8" x2="283.6" y2="245.8" stroke="#222" stroke-width="1.2"/>
<text x="276.6" y="248.4" class="tk" text-anchor="end">0.10</text>
<line x1="281.4" y1="210.3" x2="283.6" y2="210.3" stroke="#222" stroke-width="1.2"/>
<text x="276.6" y="212.9" class="tk" text-anchor="end">0.15</text>
<line x1="288.5" y1="316.8" x2="288.5" y2="319.2" stroke="#222" stroke-width="1.2"/>
<text x="284.5" y="330.4" class="xtk" textLength="6.3" lengthAdjust="spacingAndGlyphs">10</text>
<text x="291" y="327.3" class="sup">1</text>
<line x1="309.57" y1="316.8" x2="309.57" y2="318.3" stroke="#222" stroke-width="0.9"/>
<line x1="321.9" y1="316.8" x2="321.9" y2="318.3" stroke="#222" stroke-width="0.9"/>
<line x1="330.64" y1="316.8" x2="330.64" y2="318.3" stroke="#222" stroke-width="0.9"/>
<line x1="337.43" y1="316.8" x2="337.43" y2="318.3" stroke="#222" stroke-width="0.9"/>
<line x1="342.97" y1="316.8" x2="342.97" y2="318.3" stroke="#222" stroke-width="0.9"/>
<line x1="347.66" y1="316.8" x2="347.66" y2="318.3" stroke="#222" stroke-width="0.9"/>
<line x1="351.72" y1="316.8" x2="351.72" y2="318.3" stroke="#222" stroke-width="0.9"/>
<line x1="355.3" y1="316.8" x2="355.3" y2="318.3" stroke="#222" stroke-width="0.9"/>
<line x1="358.5" y1="316.8" x2="358.5" y2="319.2" stroke="#222" stroke-width="1.2"/>
<text x="354.5" y="330.4" class="xtk" textLength="6.3" lengthAdjust="spacingAndGlyphs">10</text>
<text x="361" y="327.3" class="sup">2</text>
<line x1="379.57" y1="316.8" x2="379.57" y2="318.3" stroke="#222" stroke-width="0.9"/>
<line x1="391.9" y1="316.8" x2="391.9" y2="318.3" stroke="#222" stroke-width="0.9"/>
<line x1="400.64" y1="316.8" x2="400.64" y2="318.3" stroke="#222" stroke-width="0.9"/>
<line x1="407.43" y1="316.8" x2="407.43" y2="318.3" stroke="#222" stroke-width="0.9"/>
<line x1="412.97" y1="316.8" x2="412.97" y2="318.3" stroke="#222" stroke-width="0.9"/>
<line x1="417.66" y1="316.8" x2="417.66" y2="318.3" stroke="#222" stroke-width="0.9"/>
<line x1="421.72" y1="316.8" x2="421.72" y2="318.3" stroke="#222" stroke-width="0.9"/>
<line x1="425.3" y1="316.8" x2="425.3" y2="318.3" stroke="#222" stroke-width="0.9"/>
<line x1="428.5" y1="316.8" x2="428.5" y2="319.2" stroke="#222" stroke-width="1.2"/>
<text x="424.5" y="330.4" class="xtk" textLength="6.3" lengthAdjust="spacingAndGlyphs">10</text>
<text x="431" y="327.3" class="sup">3</text>
<line x1="449.57" y1="316.8" x2="449.57" y2="318.3" stroke="#222" stroke-width="0.9"/>
<line x1="461.9" y1="316.8" x2="461.9" y2="318.3" stroke="#222" stroke-width="0.9"/>
<line x1="470.64" y1="316.8" x2="470.64" y2="318.3" stroke="#222" stroke-width="0.9"/>
<line x1="477.43" y1="316.8" x2="477.43" y2="318.3" stroke="#222" stroke-width="0.9"/>
<line x1="482.97" y1="316.8" x2="482.97" y2="318.3" stroke="#222" stroke-width="0.9"/>
<line x1="285.3" y1="316.8" x2="285.3" y2="318.3" stroke="#222" stroke-width="0.9"/>
<g transform="translate(385.5,340.1) scale(1,1.12)"><text x="0" y="0" class="lab" text-anchor="middle" textLength="59.8" lengthAdjust="spacing">granule size (μm)</text></g>
<text transform="translate(258.8,253) rotate(-90)" x="0" y="0" class="ylab" text-anchor="middle" textLength="64" lengthAdjust="spacingAndGlyphs">volume fraction (-)</text>
<rect x="287.4" y="192.7" width="93.3" height="23.2" rx="1.0" fill="#fff" fill-opacity="0.85" stroke="#dedede" stroke-width="0.8"/>
<line x1="289.4" y1="198.3" x2="306" y2="198.3" stroke="#2792d6" stroke-width="1.5"/>
<circle cx="297.7" cy="198.3" r="1.3" fill="#2792d6"/>
<text x="311.9" y="200.7" class="lg" textLength="40.2" lengthAdjust="spacingAndGlyphs">Measurement</text>
<line x1="289.4" y1="209" x2="306" y2="209" stroke="#f2431c" stroke-width="1.5"/>
<circle cx="297.7" cy="209" r="1.3" fill="#f2431c"/>
<text x="311.9" y="211.4" class="lg" textLength="65.3" lengthAdjust="spacingAndGlyphs">KME LOO prediction</text>
<g transform="translate(289.7,253) scale(1,1.15)"><text x="0" y="0" class="ann" textLength="48.1" lengthAdjust="spacing">L/S: 0.337488</text></g>
<g transform="translate(289.7,262.15) scale(1,1.15)"><text x="0" y="0" class="ann" textLength="53.8" lengthAdjust="spacing">MFR: 12.5 kg/h</text></g>
<g transform="translate(289.7,271.3) scale(1,1.15)"><text x="0" y="0" class="ann" textLength="74.6" lengthAdjust="spacing">Screw speed: 675 rpm</text></g>
<text x="370.5" y="361.8" class="sl" text-anchor="middle">(d)</text>
<clipPath id="c4"><rect x="159.8" y="370.3" width="203.2" height="128.9"/></clipPath>
<line x1="159.8" y1="370.8" x2="159.8" y2="499.7" stroke="#626262" stroke-width="1"/>
<line x1="159.3" y1="499.6" x2="362.5" y2="499.6" stroke="#626262" stroke-width="1"/>
<g clip-path="url(#c4)">
<polyline fill="none" stroke="#2792d6" stroke-width="1.5" stroke-linejoin="round" points="162.98,499.2 168.86,499.2 174.74,499.2 180.62,499.2 186.5,499.2 192.38,499.2 198.26,499.2 204.14,499.2 210.02,499.2 215.9,499.2 221.78,499.2 227.66,499.2 233.54,499 239.42,498.3 245.3,497.6 251.18,495.8 257.06,494 262.94,491.7 268.82,488.6 274.7,485 280.58,480.7 286.46,477.4 292.34,473.1 298.22,466.9 304.1,462 309.98,456 315.86,448 321.74,440.2 327.62,411.2 333.5,384.5 339.38,393.5 345.26,448.7 351.14,479 357.02,498.4 362.9,498.8"/>
<circle cx="162.98" cy="499.2" r="1.3" fill="#2792d6"/>
<circle cx="168.86" cy="499.2" r="1.3" fill="#2792d6"/>
<circle cx="174.74" cy="499.2" r="1.3" fill="#2792d6"/>
<circle cx="180.62" cy="499.2" r="1.3" fill="#2792d6"/>
<circle cx="186.5" cy="499.2" r="1.3" fill="#2792d6"/>
<circle cx="192.38" cy="499.2" r="1.3" fill="#2792d6"/>
<circle cx="198.26" cy="499.2" r="1.3" fill="#2792d6"/>
<circle cx="204.14" cy="499.2" r="1.3" fill="#2792d6"/>
<circle cx="210.02" cy="499.2" r="1.3" fill="#2792d6"/>
<circle cx="215.9" cy="499.2" r="1.3" fill="#2792d6"/>
<circle cx="221.78" cy="499.2" r="1.3" fill="#2792d6"/>
<circle cx="227.66" cy="499.2" r="1.3" fill="#2792d6"/>
<circle cx="233.54" cy="499" r="1.3" fill="#2792d6"/>
<circle cx="239.42" cy="498.3" r="1.3" fill="#2792d6"/>
<circle cx="245.3" cy="497.6" r="1.3" fill="#2792d6"/>
<circle cx="251.18" cy="495.8" r="1.3" fill="#2792d6"/>
<circle cx="257.06" cy="494" r="1.3" fill="#2792d6"/>
<circle cx="262.94" cy="491.7" r="1.3" fill="#2792d6"/>
<circle cx="268.82" cy="488.6" r="1.3" fill="#2792d6"/>
<circle cx="274.7" cy="485" r="1.3" fill="#2792d6"/>
<circle cx="280.58" cy="480.7" r="1.3" fill="#2792d6"/>
<circle cx="286.46" cy="477.4" r="1.3" fill="#2792d6"/>
<circle cx="292.34" cy="473.1" r="1.3" fill="#2792d6"/>
<circle cx="298.22" cy="466.9" r="1.3" fill="#2792d6"/>
<circle cx="304.1" cy="462" r="1.3" fill="#2792d6"/>
<circle cx="309.98" cy="456" r="1.3" fill="#2792d6"/>
<circle cx="315.86" cy="448" r="1.3" fill="#2792d6"/>
<circle cx="321.74" cy="440.2" r="1.3" fill="#2792d6"/>
<circle cx="327.62" cy="411.2" r="1.3" fill="#2792d6"/>
<circle cx="333.5" cy="384.5" r="1.3" fill="#2792d6"/>
<circle cx="339.38" cy="393.5" r="1.3" fill="#2792d6"/>
<circle cx="345.26" cy="448.7" r="1.3" fill="#2792d6"/>
<circle cx="351.14" cy="479" r="1.3" fill="#2792d6"/>
<circle cx="357.02" cy="498.4" r="1.3" fill="#2792d6"/>
<circle cx="362.9" cy="498.8" r="1.3" fill="#2792d6"/>
<polyline fill="none" stroke="#f2431c" stroke-width="1.5" stroke-linejoin="round" points="162.98,499.2 168.86,499.2 174.74,499.2 180.62,499.2 186.5,499.2 192.38,499.2 198.26,499.2 204.14,499.2 210.02,499.2 215.9,499.2 221.78,499.2 227.66,499.2 233.54,499.2 239.42,499.2 245.3,499.2 251.18,499.2 257.06,499.2 262.94,499.2 268.82,497.1 274.7,490 280.58,482.9 286.46,478.3 292.34,474.6 298.22,469.7 304.1,463 309.98,456 315.86,446.3 321.74,434.2 327.62,418.4 333.5,396.6 339.38,396.2 345.26,410.7 351.14,462 357.02,498.4 362.9,498.8"/>
<circle cx="162.98" cy="499.2" r="1.3" fill="#f2431c"/>
<circle cx="168.86" cy="499.2" r="1.3" fill="#f2431c"/>
<circle cx="174.74" cy="499.2" r="1.3" fill="#f2431c"/>
<circle cx="180.62" cy="499.2" r="1.3" fill="#f2431c"/>
<circle cx="186.5" cy="499.2" r="1.3" fill="#f2431c"/>
<circle cx="192.38" cy="499.2" r="1.3" fill="#f2431c"/>
<circle cx="198.26" cy="499.2" r="1.3" fill="#f2431c"/>
<circle cx="204.14" cy="499.2" r="1.3" fill="#f2431c"/>
<circle cx="210.02" cy="499.2" r="1.3" fill="#f2431c"/>
<circle cx="215.9" cy="499.2" r="1.3" fill="#f2431c"/>
<circle cx="221.78" cy="499.2" r="1.3" fill="#f2431c"/>
<circle cx="227.66" cy="499.2" r="1.3" fill="#f2431c"/>
<circle cx="233.54" cy="499.2" r="1.3" fill="#f2431c"/>
<circle cx="239.42" cy="499.2" r="1.3" fill="#f2431c"/>
<circle cx="245.3" cy="499.2" r="1.3" fill="#f2431c"/>
<circle cx="251.18" cy="499.2" r="1.3" fill="#f2431c"/>
<circle cx="257.06" cy="499.2" r="1.3" fill="#f2431c"/>
<circle cx="262.94" cy="499.2" r="1.3" fill="#f2431c"/>
<circle cx="268.82" cy="497.1" r="1.3" fill="#f2431c"/>
<circle cx="274.7" cy="490" r="1.3" fill="#f2431c"/>
<circle cx="280.58" cy="482.9" r="1.3" fill="#f2431c"/>
<circle cx="286.46" cy="478.3" r="1.3" fill="#f2431c"/>
<circle cx="292.34" cy="474.6" r="1.3" fill="#f2431c"/>
<circle cx="298.22" cy="469.7" r="1.3" fill="#f2431c"/>
<circle cx="304.1" cy="463" r="1.3" fill="#f2431c"/>
<circle cx="309.98" cy="456" r="1.3" fill="#f2431c"/>
<circle cx="315.86" cy="446.3" r="1.3" fill="#f2431c"/>
<circle cx="321.74" cy="434.2" r="1.3" fill="#f2431c"/>
<circle cx="327.62" cy="418.4" r="1.3" fill="#f2431c"/>
<circle cx="333.5" cy="396.6" r="1.3" fill="#f2431c"/>
<circle cx="339.38" cy="396.2" r="1.3" fill="#f2431c"/>
<circle cx="345.26" cy="410.7" r="1.3" fill="#f2431c"/>
<circle cx="351.14" cy="462" r="1.3" fill="#f2431c"/>
<circle cx="357.02" cy="498.4" r="1.3" fill="#f2431c"/>
<circle cx="362.9" cy="498.8" r="1.3" fill="#f2431c"/>
</g>
<line x1="157.6" y1="499.2" x2="159.8" y2="499.2" stroke="#222" stroke-width="1.2"/>
<text x="152.8" y="501.8" class="tk" text-anchor="end">0</text>
<line x1="157.6" y1="463.7" x2="159.8" y2="463.7" stroke="#222" stroke-width="1.2"/>
<text x="152.8" y="466.3" class="tk" text-anchor="end">0.05</text>
<line x1="157.6" y1="428.2" x2="159.8" y2="428.2" stroke="#222" stroke-width="1.2"/>
<text x="152.8" y="430.8" class="tk" text-anchor="end">0.10</text>
<line x1="157.6" y1="392.7" x2="159.8" y2="392.7" stroke="#222" stroke-width="1.2"/>
<text x="152.8" y="395.3" class="tk" text-anchor="end">0.15</text>
<line x1="164.9" y1="499.2" x2="164.9" y2="501.6" stroke="#222" stroke-width="1.2"/>
<text x="160.9" y="512.8" class="xtk" textLength="6.3" lengthAdjust="spacingAndGlyphs">10</text>
<text x="167.4" y="509.7" class="sup">1</text>
<line x1="185.97" y1="499.2" x2="185.97" y2="500.7" stroke="#222" stroke-width="0.9"/>
<line x1="198.3" y1="499.2" x2="198.3" y2="500.7" stroke="#222" stroke-width="0.9"/>
<line x1="207.04" y1="499.2" x2="207.04" y2="500.7" stroke="#222" stroke-width="0.9"/>
<line x1="213.83" y1="499.2" x2="213.83" y2="500.7" stroke="#222" stroke-width="0.9"/>
<line x1="219.37" y1="499.2" x2="219.37" y2="500.7" stroke="#222" stroke-width="0.9"/>
<line x1="224.06" y1="499.2" x2="224.06" y2="500.7" stroke="#222" stroke-width="0.9"/>
<line x1="228.12" y1="499.2" x2="228.12" y2="500.7" stroke="#222" stroke-width="0.9"/>
<line x1="231.7" y1="499.2" x2="231.7" y2="500.7" stroke="#222" stroke-width="0.9"/>
<line x1="234.9" y1="499.2" x2="234.9" y2="501.6" stroke="#222" stroke-width="1.2"/>
<text x="230.9" y="512.8" class="xtk" textLength="6.3" lengthAdjust="spacingAndGlyphs">10</text>
<text x="237.4" y="509.7" class="sup">2</text>
<line x1="255.97" y1="499.2" x2="255.97" y2="500.7" stroke="#222" stroke-width="0.9"/>
<line x1="268.3" y1="499.2" x2="268.3" y2="500.7" stroke="#222" stroke-width="0.9"/>
<line x1="277.04" y1="499.2" x2="277.04" y2="500.7" stroke="#222" stroke-width="0.9"/>
<line x1="283.83" y1="499.2" x2="283.83" y2="500.7" stroke="#222" stroke-width="0.9"/>
<line x1="289.37" y1="499.2" x2="289.37" y2="500.7" stroke="#222" stroke-width="0.9"/>
<line x1="294.06" y1="499.2" x2="294.06" y2="500.7" stroke="#222" stroke-width="0.9"/>
<line x1="298.12" y1="499.2" x2="298.12" y2="500.7" stroke="#222" stroke-width="0.9"/>
<line x1="301.7" y1="499.2" x2="301.7" y2="500.7" stroke="#222" stroke-width="0.9"/>
<line x1="304.9" y1="499.2" x2="304.9" y2="501.6" stroke="#222" stroke-width="1.2"/>
<text x="300.9" y="512.8" class="xtk" textLength="6.3" lengthAdjust="spacingAndGlyphs">10</text>
<text x="307.4" y="509.7" class="sup">3</text>
<line x1="325.97" y1="499.2" x2="325.97" y2="500.7" stroke="#222" stroke-width="0.9"/>
<line x1="338.3" y1="499.2" x2="338.3" y2="500.7" stroke="#222" stroke-width="0.9"/>
<line x1="347.04" y1="499.2" x2="347.04" y2="500.7" stroke="#222" stroke-width="0.9"/>
<line x1="353.83" y1="499.2" x2="353.83" y2="500.7" stroke="#222" stroke-width="0.9"/>
<line x1="359.37" y1="499.2" x2="359.37" y2="500.7" stroke="#222" stroke-width="0.9"/>
<line x1="161.7" y1="499.2" x2="161.7" y2="500.7" stroke="#222" stroke-width="0.9"/>
<g transform="translate(261.7,522.5) scale(1,1.12)"><text x="0" y="0" class="lab" text-anchor="middle" textLength="59.8" lengthAdjust="spacing">granule size (μm)</text></g>
<text transform="translate(135,435.4) rotate(-90)" x="0" y="0" class="ylab" text-anchor="middle" textLength="64" lengthAdjust="spacingAndGlyphs">volume fraction (-)</text>
<rect x="163.6" y="375.1" width="93.3" height="23.2" rx="1.0" fill="#fff" fill-opacity="0.85" stroke="#dedede" stroke-width="0.8"/>
<line x1="165.6" y1="380.7" x2="182.2" y2="380.7" stroke="#2792d6" stroke-width="1.5"/>
<circle cx="173.9" cy="380.7" r="1.3" fill="#2792d6"/>
<text x="188.1" y="383.1" class="lg" textLength="40.2" lengthAdjust="spacingAndGlyphs">Measurement</text>
<line x1="165.6" y1="391.4" x2="182.2" y2="391.4" stroke="#f2431c" stroke-width="1.5"/>
<circle cx="173.9" cy="391.4" r="1.3" fill="#f2431c"/>
<text x="188.1" y="393.8" class="lg" textLength="65.3" lengthAdjust="spacingAndGlyphs">KME LOO prediction</text>
<g transform="translate(165.9,435.4) scale(1,1.15)"><text x="0" y="0" class="ann" textLength="39.6" lengthAdjust="spacing">L/S: 0.5625</text></g>
<g transform="translate(165.9,444.55) scale(1,1.15)"><text x="0" y="0" class="ann" textLength="53.8" lengthAdjust="spacing">MFR: 12.5 kg/h</text></g>
<g transform="translate(165.9,453.7) scale(1,1.15)"><text x="0" y="0" class="ann" textLength="74.6" lengthAdjust="spacing">Screw speed: 675 rpm</text></g>
<text x="246.7" y="544.2" class="sl" text-anchor="middle">(e)</text>
</svg></body></html>
